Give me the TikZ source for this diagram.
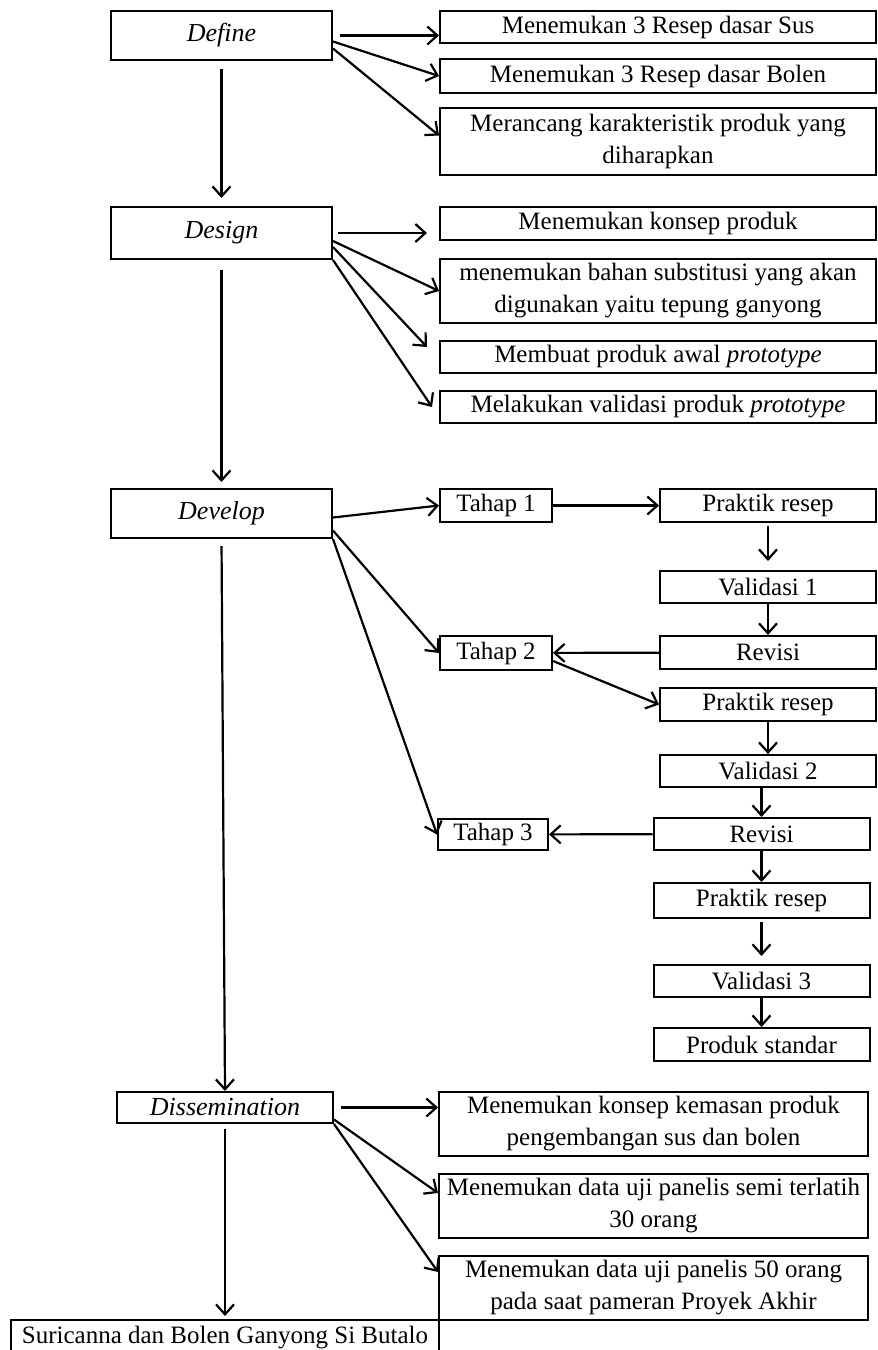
\documentclass[tikz,border=0pt]{standalone}
\usepackage{fontspec}
\setmainfont{Liberation Serif}
\usetikzlibrary{arrows.meta}

\begin{document}
\begin{tikzpicture}[
  x=0.5pt, y=-0.5pt,
  font=\fontsize{12.5}{16}\selectfont,
  stage/.style={draw, line width=1pt, inner sep=0pt,
                font=\fontsize{13}{16}\selectfont\itshape,
                minimum width=110.5pt, minimum height=24.5pt},
  item/.style={draw, line width=1pt, inner sep=0pt, align=center,
               minimum width=218pt},
  tahap/.style={draw, line width=1pt, inner sep=0pt,
                minimum width=56pt, minimum height=16.5pt},
  proc/.style={draw, line width=1pt, inner sep=0pt,
               minimum width=108pt, minimum height=16.5pt},
  flow/.style={-{Straight Barb[length=5pt,width=9pt]}, line width=1.1pt},
]
\useasboundingbox (0,0) rectangle (878,1350);

% --- stages ---
\node[stage] (define) at (221.5,35.5) {Define};
\node[stage, minimum height=26pt] (design) at (221.5,233) {Design};
\node[stage] (develop) at (221.5,513.5) {Develop};
\node[stage, minimum width=108pt, minimum height=15.5pt] (dissem) at (225,1107.5) {Dissemination};
\node[draw, line width=1pt, inner sep=0pt, minimum width=214pt,
      minimum height=18pt] (final) at (225,1338) {Suricanna dan Bolen Ganyong Si Butalo};

% --- define outputs ---
\node[item, minimum height=16pt] (r1) at (658,27) {Menemukan 3 Resep dasar Sus};
\node[item, minimum height=17pt] (r2) at (658,76) {Menemukan 3 Resep dasar Bolen};
\node[item, minimum height=33.5pt] (r3) at (658,141.5) {Merancang karakteristik produk yang\\ diharapkan};

% --- design outputs ---
\node[item, minimum height=16.5pt] (r4) at (658,223.5) {Menemukan konsep produk};
\node[item, minimum height=32pt] (r5) at (658,291) {menemukan bahan substitusi yang akan\\ digunakan yaitu tepung ganyong};
\node[item, minimum height=16pt] (r6) at (658,357) {Membuat produk awal \textit{prototype}};
\node[item, minimum height=16pt] (r7) at (658,407) {Melakukan validasi produk \textit{prototype}};

% --- develop: tahap ---
\node[tahap] (t1) at (496,505.5) {Tahap 1};
\node[tahap, minimum height=17pt] (t2) at (496,653) {Tahap 2};
\node[tahap, minimum width=55pt, minimum height=15.5pt] (t3) at (493,834.5) {Tahap 3};

% --- develop: recipe trials ---
\node[proc] (p1) at (768,505.5) {Praktik resep};
\node[proc, minimum height=16pt] (v1) at (768,587) {Validasi 1};
\node[proc] (rv1) at (768,652.5) {Revisi};
\node[proc] (p2) at (768,704.5) {Praktik resep};
\node[proc, minimum height=16pt] (v2) at (768,771) {Validasi 2};
\node[proc, minimum height=16pt] (rv2) at (761.5,834) {Revisi};
\node[proc, minimum height=17.5pt] (p3) at (761.5,900.5) {Praktik resep};
\node[proc, minimum height=16pt] (v3) at (761.5,981) {Validasi 3};
\node[proc] (ps) at (761.5,1044.5) {Produk standar};

% --- dissemination outputs ---
\node[item, minimum width=214.5pt, minimum height=32pt] (d1) at (653.5,1124) {Menemukan konsep kemasan produk\\ pengembangan sus dan bolen};
\node[item, minimum width=214.5pt, minimum height=32pt] (d2) at (653.5,1206) {Menemukan data uji panelis semi terlatih\\ 30 orang};
\node[item, minimum width=214.5pt, minimum height=32pt] (d3) at (653.5,1288) {Menemukan data uji panelis 50 orang\\ pada saat pameran Proyek Akhir};

% --- main column ---
\draw[flow, shorten <=4pt, shorten >=4pt] (define) -- (design);
\draw[flow, shorten <=5pt, shorten >=3pt] (design) -- (develop);
\draw[flow, shorten <=3.5pt] (develop.south) -- (dissem.north);
\draw[flow, shorten <=2.5pt, shorten >=1.5pt] (dissem.south) -- (final.north);

% --- define fan ---
\draw[flow, shorten <=3.5pt] (define.east) -- (r1.west |- define.east);
\draw[flow] ([yshift=-3pt]define.east) -- (r2.west);
\draw[flow] ([yshift=-6.5pt]define.east) -- ([yshift=3pt]r3.west);

% --- design fan ---
\draw[flow, shorten <=2.5pt, shorten >=6pt] (design.east) -- (r4.west |- design.east);
\draw[flow] ([yshift=-4pt]design.east) -- (r5.west);
\draw[flow] ([yshift=-7pt]design.east) -- ([xshift=-6pt,yshift=5pt]r6.west);
\draw[flow] (design.south east) -- ([xshift=-3.5pt]r7.west);

% --- develop fan ---
\draw[flow] ([yshift=-2pt]develop.east) -- (t1.west);
\draw[flow] ([yshift=-8.5pt]develop.east) -- (t2.west);
\draw[flow] (develop.south east) -- (t3.west);

% --- recipe loop ---
\draw[flow] (t1) -- (p1);
\draw[flow, shorten <=1.5pt, shorten >=4.5pt] (p1) -- (v1);
\draw[flow] (v1) -- (rv1);
\draw[flow] (rv1) -- (t2);
\draw[flow] ([yshift=-4pt]t2.east) -- (p2.west);
\draw[flow] (p2) -- (v2);
\draw[flow] (rv2.north |- v2.south) -- (rv2.north);
\draw[flow] (rv2) -- (t3);
\draw[flow] (rv2) -- (p3);
\draw[flow, shorten <=1.5pt, shorten >=4pt] (p3) -- (v3);
\draw[flow] (v3) -- (ps);

% --- dissemination fan ---
\draw[flow, shorten <=3.5pt] (dissem.east) -- (d1.west |- dissem.east);
\draw[flow] ([yshift=-6pt]dissem.east) -- ([yshift=6.5pt]d2.west);
\draw[flow] (dissem.south east) -- ([yshift=8pt]d3.west);
\end{tikzpicture}
\end{document}
